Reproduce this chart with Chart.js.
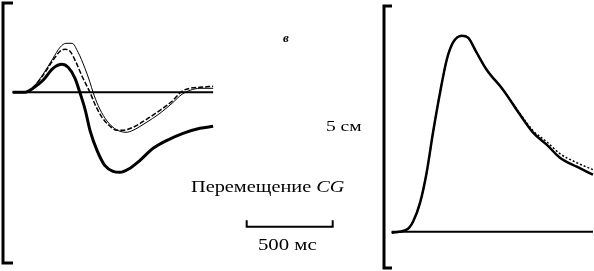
<!DOCTYPE html>
<html lang="ru">
<head>
    <meta charset="UTF-8">
    <title>Перемещение CG</title>
    <script src="https://cdn.jsdelivr.net/npm/chart.js"></script>
    <style>
        body { margin: 0; background: #fff; }
        #wrap { position: relative; width: 594px; height: 271px; overflow: hidden; }
        canvas { position: absolute; top: 0; }
        .lbl { position: absolute; font-family: "Liberation Serif", "Times New Roman", serif; color: #000; white-space: nowrap; line-height: 1; transform-origin: 0 0; }
    </style>
</head>
<body>
<div id="wrap">
    <canvas id="leftChart" width="380" height="271" style="left:0"></canvas>
    <canvas id="rightChart" width="214" height="271" style="left:380px"></canvas>
    <div class="lbl" style="left:283px; top:31px; font-size:13px; font-style:italic; font-weight:bold;">в</div>
    <div class="lbl" style="left:326px; top:119px; font-size:15px; transform:scaleX(1.3);">5 см</div>
    <div class="lbl" style="left:191px; top:179px; font-size:16px; transform:scaleX(1.27);">Перемещение <i>CG</i></div>
    <div class="lbl" style="left:258px; top:236px; font-size:17px; transform:scaleX(1.22);">500 мс</div>
</div>

<script>
    // left panel: time in ms, displacement in arbitrary units (baseline = 0)
    const tThin = [0, 72, 118, 176, 234, 275, 310, 345, 380, 420, 449, 467, 496, 537, 583, 624, 659, 699, 769, 856, 926, 984, 1031, 1089, 1165];
    const yThin = [0, 0, 0.5, 1.8, 3.4, 4.5, 4.9, 4.9, 4.0, 2.4, 1.0, 0, -1.3, -2.6, -3.5, -3.9, -4.0, -3.8, -3.1, -2.1, -1.1, -0.2, 0.2, 0.4, 0.4];

    const tDash = [0, 72, 118, 176, 234, 275, 304, 333, 368, 403, 432, 449, 478, 519, 566, 606, 641, 699, 769, 856, 926, 984, 1031, 1089, 1165];
    const yDash = [0, 0, 0.5, 1.7, 3.2, 4.1, 4.3, 4.1, 3.0, 1.6, 0.6, 0, -1.2, -2.5, -3.4, -3.8, -3.8, -3.5, -2.8, -1.8, -0.9, 0.1, 0.4, 0.5, 0.6];

    const tThick = [0, 72, 118, 176, 234, 287, 322, 362, 390, 422, 449, 490, 535, 583, 624, 671, 740, 816, 897, 990, 1089, 1165];
    const yThick = [0, 0, 0.4, 1.2, 2.4, 2.8, 2.5, 1.4, 0, -1.8, -3.8, -5.8, -7.3, -7.9, -8.0, -7.7, -6.8, -5.6, -4.8, -4.1, -3.6, -3.4];

    const baselineLeft = [0, 1165];

    // time scale bar: 500 ms
    const scaleBarStart = 1360;
    const scaleBarLength = 500;

    // right panel
    const tRight = [0, 87, 124, 165, 203, 240, 281, 320, 356, 407, 444, 494, 552, 647, 746, 822, 901, 978, 1076, 1170];
    const yRightSolid = [-0.1, 0.2, 1.0, 2.9, 5.9, 9.9, 13.9, 17.2, 18.9, 19.6, 19.4, 17.9, 16.2, 14.2, 11.7, 9.9, 8.7, 7.4, 6.5, 5.7];
    const yRightDot = [-0.1, 0.2, 1.0, 2.9, 5.9, 9.9, 13.9, 17.2, 18.9, 19.6, 19.4, 17.9, 16.2, 14.2, 11.8, 10.1, 9.0, 7.8, 6.9, 6.2];

    const baselineRight = [0, 1170];

    function pts(xs, ys) {
        return xs.map((x, i) => ({ x: x, y: ys[i] }));
    }

    // draws the square bracket at the left of each panel
    const bracketPlugin = {
        id: 'bracket',
        afterDraw(chart, args, opts) {
            const ctx = chart.ctx;
            ctx.save();
            ctx.strokeStyle = '#000';
            ctx.lineWidth = 3;
            ctx.beginPath();
            ctx.moveTo(opts.x + opts.serif, opts.top);
            ctx.lineTo(opts.x, opts.top);
            ctx.lineTo(opts.x, opts.bottom);
            ctx.lineTo(opts.x + opts.serif, opts.bottom);
            ctx.stroke();
            ctx.restore();
        }
    };

    function line(data, width, dash) {
        return {
            data: data,
            borderColor: '#000',
            borderWidth: width,
            borderDash: dash || [],
            pointRadius: 0,
            fill: false,
            cubicInterpolationMode: 'monotone',
            clip: false
        };
    }

    const common = {
        responsive: false,
        animation: false,
        events: [],
        layout: { padding: 0 },
        plugins: { legend: { display: false }, tooltip: { enabled: false } }
    };

    new Chart(document.getElementById('leftChart'), {
        type: 'line',
        data: {
            datasets: [
                line(pts(baselineLeft, [0, 0]), 2),
                line(pts(tThin, yThin), 1),
                line(pts(tDash, yDash), 1.5, [5, 2]),
                line(pts(tThick, yThick), 3),
                Object.assign(line(pts(
                    [scaleBarStart, scaleBarStart, scaleBarStart + scaleBarLength, scaleBarStart + scaleBarLength],
                    [-12.8, -13.45, -13.45, -12.8]), 2), { cubicInterpolationMode: 'default', tension: 0 })
            ]
        },
        options: Object.assign({}, common, {
            scales: {
                x: { type: 'linear', display: false, min: -74, max: 2135 },
                y: { display: false, min: -17.87, max: 9.23 }
            },
            plugins: Object.assign({}, common.plugins, {
                bracket: { x: 3, top: 3, bottom: 263, serif: 10 }
            })
        }),
        plugins: [bracketPlugin]
    });

    new Chart(document.getElementById('rightChart'), {
        type: 'line',
        data: {
            datasets: [
                line(pts(baselineRight, [0, 0]), 2),
                line(pts(tRight, yRightDot), 1.5, [2, 2]),
                line(pts(tRight, yRightSolid), 2.5)
            ]
        },
        options: Object.assign({}, common, {
            scales: {
                x: { type: 'linear', display: false, min: -68, max: 1176 },
                y: { display: false, min: -3.93, max: 23.17 }
            },
            plugins: Object.assign({}, common.plugins, {
                bracket: { x: 4, top: 6, bottom: 268, serif: 8 }
            })
        }),
        plugins: [bracketPlugin]
    });
</script>
</body>
</html>
